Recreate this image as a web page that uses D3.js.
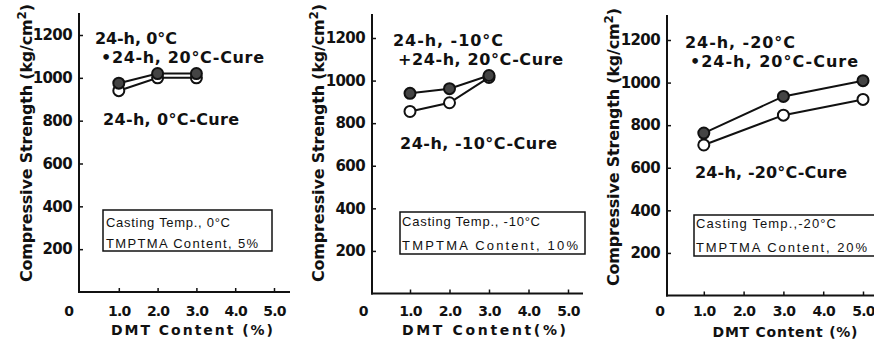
<!DOCTYPE html>
<html><head><meta charset="utf-8">
<script src="https://cdn.jsdelivr.net/npm/d3@7"></script>
<style>body{margin:0;background:#fff}svg{display:block}</style>
</head><body>
<svg id="c" width="874" height="345"></svg>
<script>
// ---- data ----
const yTickValues = [200, 400, 600, 800, 1000, 1200];
const xTickValues = [1, 2, 3, 4, 5];
const xTickLabels = ["1.0", "2.0", "3.0", "4.0", "5.0"];
const yTitle = "Compressive Strength (kg/cm";
const xTitles = ["DMT Content (%)", "DMT Content(%)", "DMT Content (%)"];

const dmt1 = [1, 2, 3];
const cure20_1 = [975, 1020, 1020];
const cureLow_1 = [940, 1000, 1000];

const dmt2 = [1, 2, 3];
const cure20_2 = [940, 962, 1024];
const cureLow_2 = [855, 896, 1015];

const dmt3 = [1, 3, 5];
const cure20_3 = [763, 935, 1009];
const cureLow_3 = [707, 847, 921];

const labels1 = ["24-h, 0°C", "•24-h, 20°C-Cure", "24-h, 0°C-Cure"];
const labels2 = ["24-h, -10°C", "+24-h, 20°C-Cure", "24-h, -10°C-Cure"];
const labels3 = ["24-h, -20°C", "•24-h, 20°C-Cure", "24-h, -20°C-Cure"];

const box1 = ["Casting Temp., 0°C", "TMPTMA Content, 5%"];
const box2 = ["Casting Temp., -10°C", "TMPTMA Content, 10%"];
const box3 = ["Casting Temp.,-20°C", "TMPTMA Content, 20%"];

// ---- layout ----
const layout = [
  {x0:80, x5:274, y0:292, y1200:35, axisX:79, xEnd:290, yTop:13, zeroDx:-11, tickY:316,
   xTitleX:192, xTitleY:335, xTitleW:162, yTitleX:32, yTitleY:143,
   lab:[[95,44,82],[101,63,163],[103,125,136]],
   box:[103,210,169,41], boxT:[[106,227,124],[106,248,152]]},
  {x0:370.5, x5:568, y0:293.5, y1200:38, axisX:372, xEnd:583, yTop:14, zeroDx:-7, tickY:316,
   xTitleX:484, xTitleY:335, xTitleW:164, yTitleX:324, yTitleY:143,
   lab:[[393,46,110],[398,65,165],[400,149,157]],
   box:[400,212,185,42], boxT:[[402,226,138],[402,250,176]]},
  {x0:664, x5:863, y0:295.5, y1200:40, axisX:667, xEnd:874, yTop:15, zeroDx:-4, tickY:316,
   xTitleX:785, xTitleY:337, xTitleW:145, yTitleX:619, yTitleY:147,
   lab:[[685,48,110],[690,67,168],[695,178,152]],
   box:[694,215,200,41], boxT:[[696,228,140],[696,252,171]]}
];

const panels = [
  {dmt:dmt1, hi:cure20_1, lo:cureLow_1, labels:labels1, box:box1},
  {dmt:dmt2, hi:cure20_2, lo:cureLow_2, labels:labels2, box:box2},
  {dmt:dmt3, hi:cure20_3, lo:cureLow_3, labels:labels3, box:box3}
];

const svg = d3.select("#c");
const FONT = "DejaVu Sans, sans-serif";

panels.forEach((p, i) => {
  const L = layout[i];
  const x = d3.scaleLinear().domain([0, 5]).range([L.x0, L.x5]);
  const y = d3.scaleLinear().domain([0, 1200]).range([L.y0, L.y1200]);
  const g = svg.append("g");

  // axis lines
  g.append("line").attr("x1", L.axisX).attr("x2", L.axisX).attr("y1", L.yTop).attr("y2", L.y0 + 1)
    .attr("stroke", "#111").attr("stroke-width", 2);
  g.append("line").attr("x1", L.axisX - 1).attr("x2", L.xEnd).attr("y1", L.y0).attr("y2", L.y0)
    .attr("stroke", "#111").attr("stroke-width", 2);

  // y axis ticks
  const ya = g.append("g").attr("transform", `translate(${L.axisX},0)`)
    .call(d3.axisLeft(y).tickValues(yTickValues).tickFormat(d3.format("d"))
      .tickSizeInner(-4).tickSizeOuter(0).tickPadding(7));
  ya.select(".domain").remove();
  ya.selectAll("line").attr("stroke", "#111").attr("stroke-width", 1.5);
  ya.selectAll("text").attr("font-family", FONT).attr("font-size", 15).attr("fill", "#111")
    .attr("font-weight", "bold").attr("letter-spacing", -0.6);

  // x axis ticks
  const xa = g.append("g").attr("transform", `translate(0,${L.y0})`)
    .call(d3.axisBottom(x).tickValues(xTickValues).tickFormat((d, k) => xTickLabels[k])
      .tickSizeInner(-4).tickSizeOuter(0).tickPadding(14));
  xa.select(".domain").remove();
  xa.selectAll("line").attr("stroke", "#111").attr("stroke-width", 1.5);
  xa.selectAll("text").attr("font-family", FONT).attr("font-size", 14).attr("fill", "#111").attr("font-weight", "bold")
    .attr("dy", null).attr("y", L.tickY - L.y0).attr("letter-spacing", -0.8);
  g.append("text").attr("x", x(0) + L.zeroDx).attr("y", L.tickY).attr("text-anchor", "middle")
    .attr("font-family", FONT).attr("font-size", 14).attr("font-weight", "bold").attr("fill", "#111").text("0");

  // titles
  g.append("text").attr("x", L.xTitleX).attr("y", L.xTitleY).attr("text-anchor", "middle")
    .attr("font-family", FONT).attr("font-size", 14).attr("font-weight", "bold").attr("fill", "#111")
    .attr("textLength", L.xTitleW).attr("lengthAdjust", "spacing").text(xTitles[i]);
  const yt = g.append("text").attr("transform", `translate(${L.yTitleX},${L.yTitleY}) rotate(-90)`)
    .attr("text-anchor", "middle").attr("font-family", FONT).attr("font-size", 16).attr("font-weight", "bold").attr("fill", "#111")
    .attr("textLength", 278).attr("lengthAdjust", "spacing");
  yt.append("tspan").text(yTitle);
  yt.append("tspan").attr("dy", -6).attr("font-size", 12).text("2");
  yt.append("tspan").attr("dy", 6).text(")");

  // lines
  const line = d3.line().x(d => x(d[0])).y(d => y(d[1]));
  const hiPts = p.dmt.map((d, k) => [d, p.hi[k]]);
  const loPts = p.dmt.map((d, k) => [d, p.lo[k]]);
  [loPts, hiPts].forEach(pts => {
    g.append("path").datum(pts).attr("d", line).attr("fill", "none").attr("stroke", "#111").attr("stroke-width", 2);
  });
  g.selectAll(".lo").data(loPts).join("circle").attr("class", "lo")
    .attr("cx", d => x(d[0])).attr("cy", d => y(d[1])).attr("r", 5.5)
    .attr("fill", "#fff").attr("stroke", "#111").attr("stroke-width", 2);
  g.selectAll(".hi").data(hiPts).join("circle").attr("class", "hi")
    .attr("cx", d => x(d[0])).attr("cy", d => y(d[1])).attr("r", 5.5)
    .attr("fill", "#444").attr("stroke", "#111").attr("stroke-width", 2);

  // series labels
  p.labels.forEach((t, k) => {
    const [lx, ly, lw] = L.lab[k];
    g.append("text").attr("x", lx).attr("y", ly).attr("font-family", FONT).attr("font-size", 16)
      .attr("font-weight", "bold").attr("fill", "#111")
      .attr("textLength", lw).attr("lengthAdjust", "spacing").text(t);
  });

  // box
  const [bx, by, bw, bh] = L.box;
  g.append("rect").attr("x", bx).attr("y", by).attr("width", bw).attr("height", bh)
    .attr("fill", "none").attr("stroke", "#111").attr("stroke-width", 1.5);
  p.box.forEach((t, k) => {
    const [tx, ty, tw] = L.boxT[k];
    g.append("text").attr("x", tx).attr("y", ty).attr("font-family", "Liberation Sans, sans-serif").attr("font-size", 13)
      .attr("fill", "#111").attr("textLength", tw).attr("lengthAdjust", "spacing").text(t);
  });
});
</script>
</body></html>
